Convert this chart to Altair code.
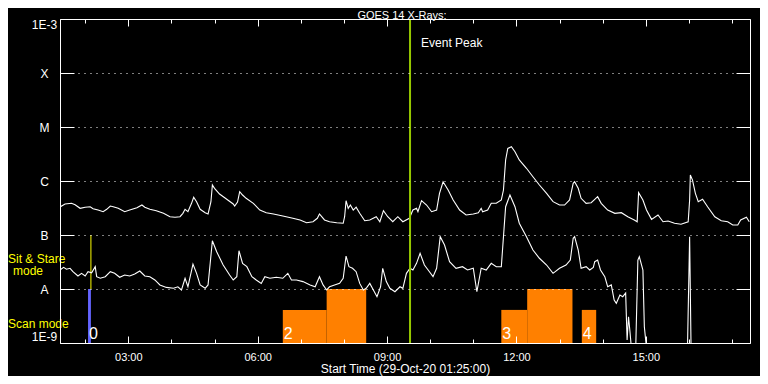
import altair as alt
import pandas as pd

DAY = "2020-10-29"
T0 = pd.Timestamp(f"{DAY} 01:25")
FONT = "Liberation Sans"
WHITE = "white"
YELLOW = "#FFFF00"
ORANGE = "#FF8000"
BLUE = "#6464FF"
GREEN = "#96C800"

# GOES 14 long channel (upper curve): minutes after 01:25 and flux (W/m^2)
long_minutes = [0, 7, 16, 21, 28, 35, 42, 46, 53, 60, 65, 70, 74, 81, 90, 97, 107, 114, 118, 125,
                134, 144, 153, 160, 167, 171, 174, 178, 183, 186, 190, 195, 202, 206, 210, 212, 215, 222, 232, 241,
                243, 247, 250, 254, 259, 269, 278, 287, 297, 310, 324, 334, 343, 352, 358, 361, 368, 375, 385, 394,
                396, 398, 401, 404, 408, 412, 417, 424, 431, 440, 445, 450, 456, 463, 470, 477, 486, 491, 496, 498,
                503, 510, 517, 524, 528, 533, 540, 547, 556, 565, 575, 582, 586, 588, 595, 600, 607, 614, 617, 620,
                623, 628, 633, 639, 649, 658, 667, 677, 686, 695, 702, 709, 714, 716, 721, 725, 732, 739, 744, 748,
                753, 762, 772, 781, 790, 799, 803, 805, 811, 816, 823, 832, 839, 846, 855, 864, 874, 876, 877, 880,
                884, 888, 894, 901, 911, 920, 929, 936, 943, 947, 955, 959]
long_flux = [3.3e-7, 3.75e-7, 3.86e-7, 3.64e-7, 3.12e-7, 3.27e-7, 3.34e-7, 3.07e-7, 2.9e-7, 2.7e-7,
             2.99e-7, 3.44e-7, 3.34e-7, 3.12e-7, 2.7e-7, 2.9e-7, 3.2e-7, 3.59e-7, 3.27e-7, 2.99e-7,
             2.82e-7, 2.52e-7, 2.18e-7, 2.13e-7, 2.18e-7, 2.52e-7, 2.99e-7, 2.7e-7, 3.86e-7, 4.99e-7,
             4.14e-7, 2.99e-7, 2.59e-7, 2.45e-7, 4.14e-7, 8.43e-7, 7.32e-7, 5.74e-7, 4.58e-7, 3.75e-7,
             3.44e-7, 4.08e-7, 6.34e-7, 5.5e-7, 4.78e-7, 3.86e-7, 2.9e-7, 2.59e-7, 2.45e-7, 2.25e-7,
             2.04e-7, 1.9e-7, 1.69e-7, 1.76e-7, 2.04e-7, 2.45e-7, 1.9e-7, 1.76e-7, 1.69e-7, 1.65e-7,
             2.18e-7, 4.32e-7, 3.12e-7, 3.59e-7, 2.9e-7, 3.27e-7, 2.52e-7, 1.84e-7, 1.9e-7, 2.18e-7,
             1.76e-7, 2.82e-7, 2.18e-7, 1.76e-7, 2.18e-7, 1.76e-7, 2.04e-7, 2.9e-7, 3.12e-7, 2.7e-7,
             4.32e-7, 3.59e-7, 2.7e-7, 2.9e-7, 5.91e-7, 9.69e-7, 6.81e-7, 4.45e-7, 2.9e-7, 2.35e-7,
             2.45e-7, 2.59e-7, 3.12e-7, 2.7e-7, 2.9e-7, 3.86e-7, 3.86e-7, 4.45e-7, 6.81e-7, 2.45e-6,
             4.01e-6, 4.32e-6, 3.49e-6, 2.45e-6, 1.72e-6, 1.2e-6, 8.43e-7, 5.91e-7, 4.14e-7, 3.59e-7,
             3.59e-7, 4.45e-7, 9.05e-7, 9.69e-7, 7.32e-7, 4.78e-7, 3.86e-7, 3.96e-7, 4.58e-7, 5.12e-7,
             3.86e-7, 2.9e-7, 2.52e-7, 2.59e-7, 2.18e-7, 1.9e-7, 1.76e-7, 6.07e-7, 4.45e-7, 2.9e-7,
             1.95e-7, 2.35e-7, 1.76e-7, 1.82e-7, 1.65e-7, 1.58e-7, 1.76e-7, 4.45e-7, 1.29e-6, 1.04e-6,
             5.91e-7, 4.14e-7, 4.58e-7, 3.34e-7, 2.18e-7, 1.84e-7, 1.76e-7, 1.53e-7, 1.53e-7, 1.9e-7,
             2.13e-7, 1.76e-7]

# GOES 14 short channel (lower curve)
short_minutes = [0, 5, 9, 14, 18, 25, 30, 35, 39, 44, 49, 51, 56, 63, 70, 76, 83, 90, 97, 104,
                 111, 118, 125, 132, 139, 148, 158, 164, 169, 174, 178, 185, 190, 195, 202, 206, 209, 212, 218, 227,
                 236, 241, 246, 249, 254, 260, 267, 273, 280, 285, 292, 301, 310, 317, 322, 329, 338, 348, 355, 361,
                 366, 371, 375, 382, 389, 394, 398, 402, 407, 412, 417, 422, 426, 431, 436, 441, 446, 449, 454, 459,
                 466, 473, 477, 482, 487, 491, 496, 501, 507, 514, 519, 524, 529, 535, 542, 551, 560, 567, 575, 580,
                 586, 593, 600, 607, 614, 616, 620, 626, 633, 639, 649, 658, 667, 677, 686, 695, 704, 710, 714, 716,
                 721, 725, 732, 737, 742, 744, 748, 752, 758, 762, 767, 771, 774, 779, 783, 787, 788, 789, 791, 793,
                 795, 801, 804, 806, 811, 813, 816, 873, 876, 878, 959]
short_flux = [2.25e-8, 2.52e-8, 2.32e-8, 2.42e-8, 2.09e-8, 1.74e-8, 1.95e-8, 1.74e-8, 2.09e-8, 2.0e-8,
              2.59e-8, 1.69e-8, 1.58e-8, 1.69e-8, 2.09e-8, 1.95e-8, 1.65e-8, 1.82e-8, 1.74e-8, 1.9e-8,
              2.15e-8, 1.74e-8, 1.69e-8, 1.47e-8, 1.19e-8, 1.07e-8, 1.03e-8, 1.1e-8, 9.6e-9, 1.58e-8,
              1.1e-8, 2.9e-8, 1.95e-8, 1.19e-8, 1.03e-8, 1.19e-8, 3.03e-8, 7.84e-8, 4.9e-8, 2.78e-8,
              1.82e-8, 1.47e-8, 1.69e-8, 5.12e-8, 2.99e-8, 2.59e-8, 1.69e-8, 1.47e-8, 1.27e-8, 1.69e-8,
              1.58e-8, 1.65e-8, 1.58e-8, 1.95e-8, 1.47e-8, 1.47e-8, 1.37e-8, 1.19e-8, 1.1e-8, 1.69e-8,
              1.19e-8, 9.6e-9, 1.1e-8, 1.19e-8, 1.27e-8, 1.58e-8, 4.08e-8, 2.59e-8, 2.42e-8, 2.09e-8,
              1.27e-8, 9.6e-9, 1.03e-8, 1.27e-8, 9.6e-9, 7.2e-9, 1.1e-8, 2.42e-8, 1.37e-8, 1.03e-8,
              8.9e-9, 1.1e-8, 1.03e-8, 1.95e-8, 2.42e-8, 2.25e-8, 2.99e-8, 4.58e-8, 2.78e-8, 2.09e-8,
              1.69e-8, 2.42e-8, 9.3e-8, 6.53e-8, 3.2e-8, 2.42e-8, 2.59e-8, 2.25e-8, 2.42e-8, 8.9e-9,
              2.42e-8, 2.25e-8, 2.99e-8, 2.59e-8, 2.59e-8, 6.07e-8, 3.34e-7, 5.5e-7, 3.34e-7, 1.65e-7,
              9.3e-8, 5.27e-8, 3.71e-8, 2.78e-8, 1.95e-8, 2.42e-8, 2.78e-8, 3.44e-8, 8.7e-8, 9.3e-8,
              5.27e-8, 2.42e-8, 2.59e-8, 2.25e-8, 2.52e-8, 3.2e-8, 3.44e-8, 2.25e-8, 1.69e-8, 1.1e-8,
              1.19e-8, 6.25e-9, 5.43e-9, 7.74e-9, 7.2e-9, 8.43e-9, 3.07e-9, 1.14e-9, 3.07e-9, 1.62e-9,
              8e-10, 8e-10, 3.44e-8, 3.96e-8, 2.25e-8, 2.0e-9, 8e-10, 8e-10, 9.3e-8, 8e-10, 8e-10]

event_peak = "09:32"
sit_stare_start, sit_stare_end = "02:04", "02:08"
scan_start = ["06:35", "07:36", "11:39", "12:15", "13:31"]
scan_end = ["07:36", "08:31", "12:15", "13:18", "13:51"]
scan_level = [4.1e-9, 1e-8, 4.1e-9, 1e-8, 4.1e-9]
run_label_time = ["02:04", "06:35", "11:39", "13:31"]
run_label_text = ["0", "2", "3", "4"]

decades = [1e-9, 1e-8, 1e-7, 1e-6, 1e-5, 1e-4, 1e-3]
decade_labels = ["1E-9", "A", "B", "C", "M", "X", "1E-3"]
major_hours = [3, 6, 9, 12, 15]
minor_hours = list(range(2, 18))
title_text = "GOES 14 X-Rays:"


def iso(hhmm):
    return pd.Timestamp(f"{DAY} {hhmm}").isoformat()


def dtobj(h, m=0):
    return alt.DateTime(year=2020, month=10, date=29, hours=h, minutes=m)


long_df = pd.DataFrame({"time": [(T0 + pd.Timedelta(minutes=m)).isoformat() for m in long_minutes],
                        "flux": long_flux})
short_df = pd.DataFrame({"time": [(T0 + pd.Timedelta(minutes=m)).isoformat() for m in short_minutes],
                         "flux": short_flux})
scan_df = pd.DataFrame({"start": [iso(s) for s in scan_start], "end": [iso(e) for e in scan_end],
                        "level": scan_level})
sit_df = pd.DataFrame({"start": [iso(sit_stare_start)], "end": [iso(sit_stare_end)],
                       "level": [1e-8], "hi": [1e-7]})
ev_df = pd.DataFrame({"time": [iso(event_peak)], "label": ["Event Peak"]})
run_df = pd.DataFrame({"time": [iso(t) for t in run_label_time], "label": run_label_text})

xscale = alt.Scale(domain=[dtobj(1, 25), dtobj(17, 25)])
yscale = alt.Scale(type="log", domain=[1e-9, 1e-3], nice=False)

pairs = list(zip(decades, decade_labels))[::-1]
label_expr = " : ".join([f"datum.value > {v / 3:g} ? '{l}'" for v, l in pairs[:-1]] + [f"'{pairs[-1][1]}'"])

axis_bottom_major = alt.Axis(
    orient="bottom", values=[dtobj(h) for h in major_hours], format="%H:%M",
    tickSize=alt.ExprRef(expr="-7"), tickColor=WHITE, tickWidth=1,
    domain=True, domainColor=WHITE, domainWidth=1,
    labelColor=WHITE, labelFont=FONT, labelFontSize=11, labelPadding=15,
    labelFlush=False, labelOverlap=False, grid=False,
    title="Start Time (29-Oct-20 01:25:00)", titleColor=WHITE, titleFont=FONT,
    titleFontSize=12, titleFontWeight="normal", titlePadding=1, zindex=1)
axis_bottom_minor = alt.Axis(
    orient="bottom", values=[dtobj(h) for h in minor_hours], tickSize=alt.ExprRef(expr="-4"),
    tickColor=WHITE, domain=False, labels=False, grid=False, title=None, zindex=1)
axis_top_major = alt.Axis(
    orient="top", values=[dtobj(h) for h in major_hours], tickSize=alt.ExprRef(expr="-7"),
    tickColor=WHITE, domain=True, domainColor=WHITE, labels=False, grid=False, title=None, zindex=1)
axis_top_minor = alt.Axis(
    orient="top", values=[dtobj(h) for h in minor_hours], tickSize=alt.ExprRef(expr="-4"),
    tickColor=WHITE, domain=False, labels=False, grid=False, title=None, zindex=1)
axis_left = alt.Axis(
    orient="left", values=decades, labelExpr=label_expr, tickSize=alt.ExprRef(expr="-14"),
    tickColor=WHITE, domainColor=WHITE, labelColor=WHITE, labelFont=FONT, labelFontSize=12,
    labelAlign="center", labelPadding=30, labelOverlap=False, labelFlush=True,
    grid=True, gridColor=WHITE, gridDash=[1, 5], gridWidth=1, gridOpacity=1, title=None, zindex=1)
axis_right = alt.Axis(
    orient="right", values=decades, labels=False, tickSize=alt.ExprRef(expr="-14"),
    tickColor=WHITE, domainColor=WHITE, grid=False, title=None, zindex=1)

scan_bars = alt.Chart(scan_df).mark_rect(color=ORANGE).encode(
    x=alt.X("start:T", scale=xscale, axis=axis_top_major),
    x2="end:T",
    y=alt.Y("level:Q", scale=yscale, axis=None),
    y2=alt.Y2Datum(1e-9),
)
sit_bar = alt.Chart(sit_df).mark_rect(color=BLUE).encode(
    x=alt.X("start:T", scale=xscale, axis=axis_top_minor),
    x2="end:T",
    y=alt.Y("level:Q", scale=yscale, axis=None),
    y2=alt.Y2Datum(1e-9),
)
sit_marker = alt.Chart(sit_df).mark_rule(color=YELLOW, strokeWidth=1).encode(
    x=alt.X("end:T", scale=xscale, axis=None),
    y=alt.Y("level:Q", scale=yscale, axis=None),
    y2="hi:Q",
)
upper = alt.Chart(long_df).mark_line(color=WHITE, strokeWidth=1.1, clip=True).encode(
    x=alt.X("time:T", scale=xscale, axis=axis_bottom_major),
    y=alt.Y("flux:Q", scale=yscale, axis=axis_left),
)
lower = alt.Chart(short_df).mark_line(color=WHITE, strokeWidth=1.1, clip=True).encode(
    x=alt.X("time:T", scale=xscale, axis=axis_bottom_minor),
    y=alt.Y("flux:Q", scale=yscale, axis=axis_right),
)
ev_rule = alt.Chart(ev_df).mark_rule(color=GREEN, strokeWidth=2).encode(
    x=alt.X("time:T", scale=xscale, axis=None),
)
ev_text = alt.Chart(ev_df).mark_text(align="left", baseline="middle", dx=11, color=WHITE,
                                     font=FONT, fontSize=12).encode(
    x=alt.X("time:T", scale=xscale, axis=None),
    y=alt.value(24),
    text="label:N",
)
run_text = alt.Chart(run_df).mark_text(align="left", baseline="alphabetic", dx=1, dy=-4,
                                       color=WHITE, font=FONT, fontSize=16).encode(
    x=alt.X("time:T", scale=xscale, axis=None),
    y=alt.YDatum(1e-9, axis=None),
    text="label:N",
)


def free_label(txt, x, y, color, size, align="left", baseline="middle"):
    return alt.Chart(pd.DataFrame({"label": [txt]})).mark_text(
        align=align, baseline=baseline, color=color, font=FONT, fontSize=size
    ).encode(x=alt.value(x), y=alt.value(y), text="label:N")


chart = alt.layer(
    scan_bars, sit_bar, sit_marker, upper, lower, ev_rule, ev_text, run_text,
    free_label("Sit & Stare", -52, 239.5, YELLOW, 12),
    free_label("mode", -47, 252, YELLOW, 12),
    free_label("Scan mode", -52, 305, YELLOW, 12),
    free_label(title_text, 342, -0.5, WHITE, 11, align="center", baseline="alphabetic"),
).resolve_axis(x="independent", y="independent").properties(
    width=690, height=324,
    autosize=alt.AutoSizeParams(type="none"),
    padding={"left": 52, "top": 11, "right": 10, "bottom": 33},
).configure(background="black").configure_view(stroke=None)

chart.save("out.html", embed_options={"renderer": "svg", "actions": False})
